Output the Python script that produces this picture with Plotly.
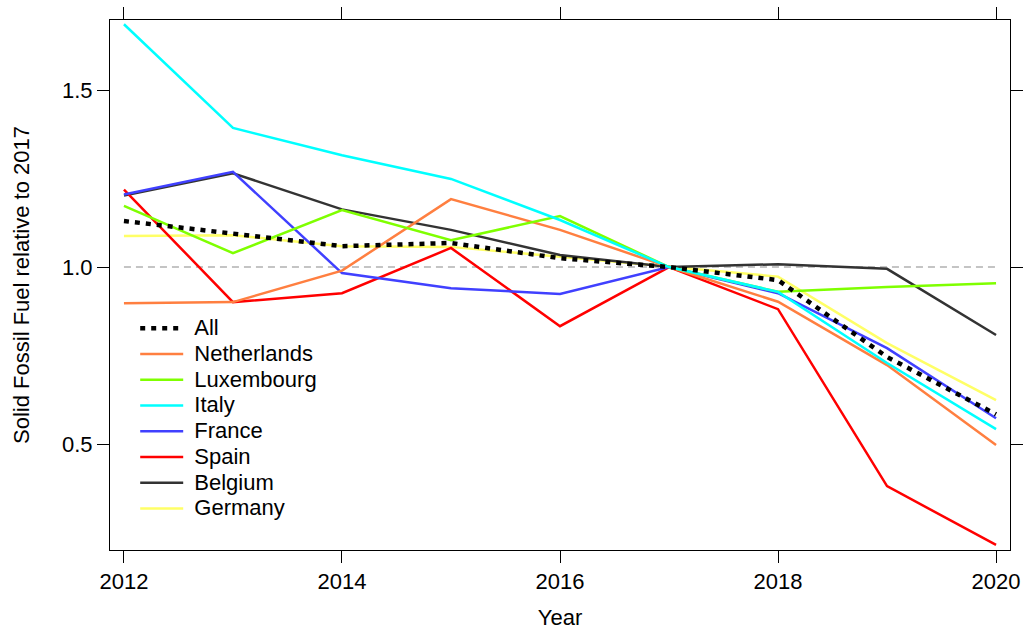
import plotly.graph_objects as go

years = [2012, 2013, 2014, 2015, 2016, 2017, 2018, 2019, 2020]

all_countries = [1.130, 1.095, 1.059, 1.068, 1.025, 1.0, 0.963, 0.746, 0.584]
netherlands = [0.898, 0.901, 0.990, 1.192, 1.105, 1.0, 0.902, 0.723, 0.497]
luxembourg = [1.173, 1.039, 1.161, 1.076, 1.144, 1.0, 0.930, 0.944, 0.954]
italy = [1.686, 1.393, 1.316, 1.249, 1.133, 1.0, 0.930, 0.729, 0.542]
france = [1.205, 1.269, 0.983, 0.940, 0.924, 1.0, 0.926, 0.771, 0.573]
spain = [1.219, 0.901, 0.926, 1.054, 0.833, 1.0, 0.881, 0.381, 0.215]
belgium = [1.202, 1.265, 1.163, 1.105, 1.034, 1.0, 1.008, 0.995, 0.808]
germany = [1.088, 1.090, 1.059, 1.057, 1.029, 1.0, 0.973, 0.785, 0.624]

ref_years = [2012, 2020]
ref_level = [1.0, 1.0]

FONT = "Liberation Sans, Arial, sans-serif"

# (name, values, colour, legend rank) in drawing order
series = [
    ("Germany", germany, "#FFFF66", 8),
    ("Belgium", belgium, "#333333", 7),
    ("Spain", spain, "#FF0000", 6),
    ("France", france, "#4040FF", 5),
    ("Netherlands", netherlands, "#FF7F40", 2),
    ("Luxembourg", luxembourg, "#7FFF00", 3),
    ("Italy", italy, "#00FFFF", 4),
]


def legend_label(name):
    # bigger text than the legend font, so rows stay tight like the original
    return f'<span style="font-size:22px">&nbsp;{name}</span>'


fig = go.Figure()

# reference line at the 2017 level
fig.add_trace(go.Scatter(
    x=ref_years, y=ref_level, mode="lines", showlegend=False,
    line=dict(color="#C4C4C4", width=2, dash="7px,5px"), hoverinfo="skip"
))

for name, vals, color, rank in series:
    fig.add_trace(go.Scatter(
        x=years, y=vals, mode="lines",
        name=legend_label(name),
        legendrank=rank,
        line=dict(color=color, width=2.5)
    ))

fig.add_trace(go.Scatter(
    x=years, y=all_countries, mode="lines",
    name=legend_label("All"),
    legendrank=1,
    line=dict(color="black", width=4.5, dash="5px,6px")
))

axis_style = dict(
    showline=True, linecolor="black", linewidth=1, mirror="ticks",
    ticks="outside", ticklen=12, tickcolor="black", tickwidth=1,
    showgrid=False, zeroline=False, automargin=False,
    tickfont=dict(family=FONT, size=22, color="black"),
    title_font=dict(family=FONT, size=22, color="black"),
)

fig.update_xaxes(
    range=[2011.872, 2020.128], tickvals=[2012, 2014, 2016, 2018, 2020],
    title_text="Year", title_standoff=16, **axis_style
)
fig.update_yaxes(
    range=[0.2006, 1.698], tickvals=[0.5, 1.0, 1.5], tickformat=".1f",
    title_text="Solid Fossil Fuel relative to 2017", title_standoff=26,
    **axis_style
)

fig.update_layout(
    width=1027, height=631,
    plot_bgcolor="white", paper_bgcolor="white",
    font=dict(family=FONT, size=22, color="black"),
    margin=dict(l=110, r=17, t=20, b=81),
    legend=dict(
        x=0.028, y=0.452, xanchor="left", yanchor="top",
        bgcolor="rgba(0,0,0,0)", font=dict(family=FONT, size=17.5),
        itemwidth=43, traceorder="normal"
    ),
)

# drop the page's default body margin so the figure sits at the window corner
fig.write_html(
    "out.html",
    config={"displayModeBar": False},
    post_script="document.body.style.margin='0';",
)
